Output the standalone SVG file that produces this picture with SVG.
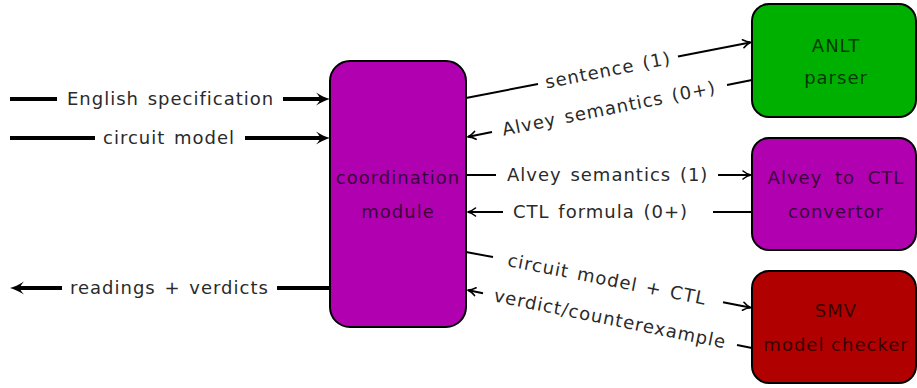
<svg xmlns="http://www.w3.org/2000/svg" width="917" height="388" viewBox="0 0 917 388">
<style>
.lbl{font-family:"DejaVu Sans",sans-serif;font-size:18px;fill:#2a2a2a;letter-spacing:1px;word-spacing:2px}
.btx{font-family:"DejaVu Sans",sans-serif;font-size:18px;fill:#000;fill-opacity:0.7;letter-spacing:1px;text-anchor:middle}
.box{stroke:#000;stroke-width:2}
.thick{stroke:#000;stroke-width:4;fill:none}
.thin{stroke:#000;stroke-width:2;fill:none}
.head{fill:#000;stroke:none}
.shead{fill:none;stroke:#000;stroke-width:1.6;stroke-linecap:round}
</style>

<g id="coordination">
<rect class="box" x="330" y="61" width="136" height="266" rx="20" fill="#b000b0"/>
<text class="btx" x="398" y="184">coordination</text>
<text class="btx" x="398" y="218">module</text>
</g>
<g id="anlt">
<rect class="box" x="752" y="4" width="164" height="113" rx="17" fill="#00b000"/>
<text class="btx" x="836" y="52">ANLT</text>
<text class="btx" x="836" y="84">parser</text>
</g>
<g id="convertor">
<rect class="box" x="752" y="138" width="164" height="112" rx="17" fill="#b000b0"/>
<text class="btx" x="836" y="184" word-spacing="6">Alvey to CTL</text>
<text class="btx" x="836" y="218">convertor</text>
</g>
<g id="smv">
<rect class="box" x="752" y="271" width="164" height="112" rx="17" fill="#b00000"/>
<text class="btx" x="836" y="317">SMV</text>
<text class="btx" x="836" y="351">model checker</text>
</g>

<g id="connectors">
<line class="thick" x1="10" y1="99" x2="57" y2="99"/>
<line class="thick" x1="283" y1="99" x2="320" y2="99"/>
<path class="head" transform="translate(330,99)" d="M0,0 Q-6,-1.5 -14,-6.5 Q-10,-2 -10,0 Q-10,2 -14,6.5 Q-6,1.5 0,0 Z"/>
<text class="lbl" x="67" y="105">English specification</text>

<line class="thick" x1="10" y1="138" x2="95" y2="138"/>
<line class="thick" x1="245" y1="138" x2="320" y2="138"/>
<path class="head" transform="translate(330,138)" d="M0,0 Q-6,-1.5 -14,-6.5 Q-10,-2 -10,0 Q-10,2 -14,6.5 Q-6,1.5 0,0 Z"/>
<text class="lbl" x="103" y="144">circuit model</text>

<line class="thick" x1="330" y1="288" x2="277" y2="288"/>
<line class="thick" x1="62" y1="288" x2="20" y2="288"/>
<path class="head" transform="translate(10,288) rotate(180)" d="M0,0 Q-6,-1.5 -14,-6.5 Q-10,-2 -10,0 Q-10,2 -14,6.5 Q-6,1.5 0,0 Z"/>
<text class="lbl" x="70" y="294">readings + verdicts</text>

<line class="thin" x1="466" y1="98" x2="538" y2="84"/>
<line class="thin" x1="678" y1="56.5" x2="750" y2="42.4"/>
<path class="shead" transform="translate(751,42.2) rotate(-11.1)" d="M-8,-4 C-5,-1.5 -2,-0.4 0,0 C-2,0.4 -5,1.5 -8,4"/>
<text class="lbl" text-anchor="middle" transform="translate(608,70.3) rotate(-11.1)" y="6">sentence (1)</text>

<line class="thin" x1="752" y1="80" x2="727" y2="85"/>
<line class="thin" x1="492" y1="132" x2="468.5" y2="136.7"/>
<path class="shead" transform="translate(467.5,136.9) rotate(168.7)" d="M-8,-4 C-5,-1.5 -2,-0.4 0,0 C-2,0.4 -5,1.5 -8,4"/>
<text class="lbl" text-anchor="middle" transform="translate(609,108.6) rotate(-11.3)" y="6">Alvey semantics (0+)</text>

<line class="thin" x1="466" y1="175" x2="496" y2="175"/>
<line class="thin" x1="718" y1="175" x2="750" y2="175"/>
<path class="shead" transform="translate(751,175)" d="M-8,-4 C-5,-1.5 -2,-0.4 0,0 C-2,0.4 -5,1.5 -8,4"/>
<text class="lbl" x="507" y="181">Alvey semantics (1)</text>

<line class="thin" x1="752" y1="212" x2="713" y2="212"/>
<line class="thin" x1="503" y1="212" x2="468.5" y2="212"/>
<path class="shead" transform="translate(467.5,212) rotate(180)" d="M-8,-4 C-5,-1.5 -2,-0.4 0,0 C-2,0.4 -5,1.5 -8,4"/>
<text class="lbl" x="513" y="218">CTL formula (0+)</text>

<line class="thin" x1="466" y1="252" x2="493" y2="257.1"/>
<line class="thin" x1="723" y1="302.3" x2="750" y2="307.6"/>
<path class="shead" transform="translate(751,307.8) rotate(11.1)" d="M-8,-4 C-5,-1.5 -2,-0.4 0,0 C-2,0.4 -5,1.5 -8,4"/>
<text class="lbl" text-anchor="middle" transform="translate(607,279.5) rotate(11.1)" y="6">circuit model + CTL</text>

<line class="thin" x1="752" y1="348" x2="737" y2="345"/>
<line class="thin" x1="483" y1="293.3" x2="468.5" y2="290.3"/>
<path class="shead" transform="translate(467.5,290.1) rotate(191.5)" d="M-8,-4 C-5,-1.5 -2,-0.4 0,0 C-2,0.4 -5,1.5 -8,4"/>
<text class="lbl" text-anchor="middle" transform="translate(610,319) rotate(11.5)" y="6">verdict/counterexample</text>
</g>
</svg>
